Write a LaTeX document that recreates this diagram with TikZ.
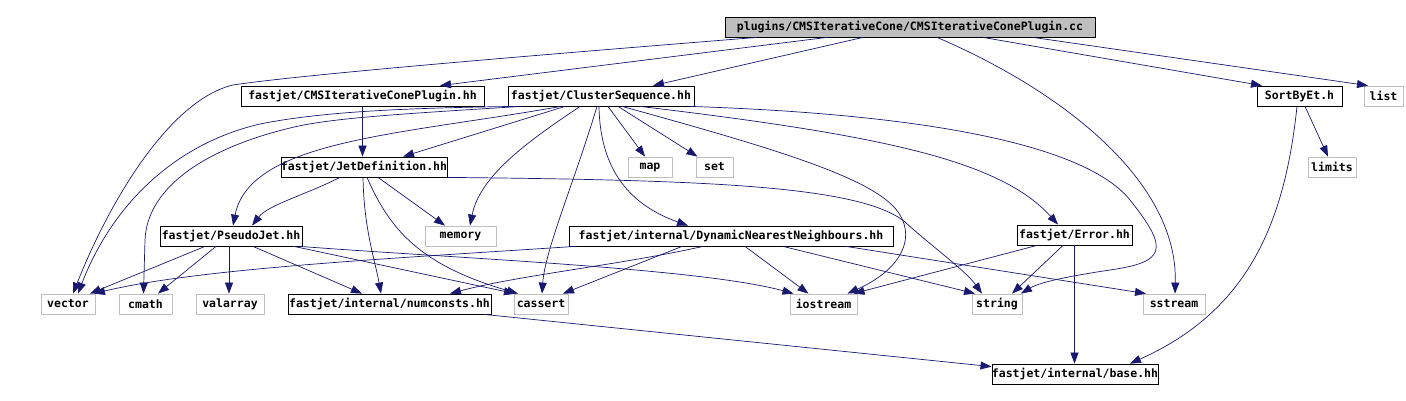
\documentclass[tikz,border=0pt]{standalone}
\usepackage{fontspec}
\setmonofont{DejaVu Sans Mono}
\usetikzlibrary{arrows.meta}
\definecolor{edgeblue}{HTML}{191970}
\definecolor{sysgray}{HTML}{BFBFBF}

\begin{document}
\begin{tikzpicture}[x=1pt, y=-1pt,
    file/.style={draw=black, fill=white, line width=0.8pt, minimum height=20pt, inner sep=0pt,
        font=\ttfamily\bfseries\fontsize{11.5}{13}\selectfont},
    sysfile/.style={file, draw=sysgray},
    mainfile/.style={file, fill=sysgray},
    dep/.style={edgeblue, line width=0.7pt, -{Triangle[length=11pt,width=8pt]}}]
    \useasboundingbox (0,0) rectangle (1406,401);

    \node[mainfile, minimum width=370pt] (root) at (910,27) {plugins/CMSIterativeCone/CMSIterativeConePlugin.cc};

    \node[file, minimum width=243pt] (cmsplug) at (362.5,96) {fastjet/CMSIterativeConePlugin.hh};
    \node[file, minimum width=186pt] (cluster) at (601,96) {fastjet/ClusterSequence.hh};
    \node[file, minimum width=85pt] (sortbyet) at (1299.5,96) {SortByEt.h};
    \node[sysfile, minimum width=39pt] (list) at (1383.5,96) {list};

    \node[file, minimum width=164pt] (jetdef) at (364,167) {fastjet/JetDefinition.hh};
    \node[sysfile, minimum width=44pt] (map) at (650,167) {map};
    \node[sysfile, minimum width=37pt] (set) at (714.5,167) {set};
    \node[sysfile, minimum width=48pt] (limits) at (1332,167) {limits};

    \node[file, minimum width=142pt] (pseudojet) at (231,236) {fastjet/PseudoJet.hh};
    \node[sysfile, minimum width=71pt] (memory) at (460.5,236) {memory};
    \node[file, minimum width=324pt] (dnn) at (731,236) {fastjet/internal/DynamicNearestNeighbours.hh};
    \node[file, minimum width=115pt] (error) at (1074.5,235) {fastjet/Error.hh};

    \node[sysfile, minimum width=54pt] (vector) at (68,304) {vector};
    \node[sysfile, minimum width=53pt] (cmath) at (145.5,304) {cmath};
    \node[sysfile, minimum width=68pt] (valarray) at (230,304) {valarray};
    \node[file, minimum width=203pt] (numconsts) at (389.5,304) {fastjet/internal/numconsts.hh};
    \node[sysfile, minimum width=54pt] (cassert) at (541,304) {cassert};
    \node[sysfile, minimum width=67pt] (iostream) at (823.5,304) {iostream};
    \node[sysfile, minimum width=50pt] (string) at (997,304) {string};
    \node[sysfile, minimum width=62pt] (sstream) at (1174,304) {sstream};

    \node[file, minimum width=164pt] (base) at (1075,374) {fastjet/internal/base.hh};

    \draw[dep] ([xshift=-153pt]root.south) .. controls (500,58) and (300,75) .. (233,85) .. controls (170,100) and (110,200) .. ([xshift=5pt]vector.north);
    \draw[dep] ([xshift=-83pt]root.south) -- ([xshift=77.5pt]cmsplug.north);
    \draw[dep] ([xshift=-47pt]root.south) -- ([xshift=52pt]cluster.north);
    \draw[dep] ([xshift=27pt]root.south) .. controls (1060,90) and (1178,180) .. ([xshift=1pt]sstream.north);
    \draw[dep] ([xshift=73pt]root.south) -- ([xshift=-37.5pt]sortbyet.north);
    \draw[dep] ([xshift=123pt]root.south) -- ([xshift=-15.5pt]list.north);

    \draw[dep] (cmsplug.south) -- (cmsplug.south |- jetdef.north);

    \draw[dep] ([xshift=-85pt]cluster.south) .. controls (400,108) and (320,112) .. (260,124) .. controls (170,145) and (110,210) .. ([xshift=10pt]vector.north);
    \draw[dep] ([xshift=-80pt]cluster.south) .. controls (400,114) and (330,118) .. (290,128) .. controls (200,150) and (147,190) .. (145,240) -- ([xshift=-2pt]cmath.north);
    \draw[dep] ([xshift=-40pt]cluster.south) .. controls (400,135) and (250,140) .. ([xshift=2pt]pseudojet.north);
    \draw[dep] ([xshift=-36pt]cluster.south) -- ([xshift=39pt]jetdef.north);
    \draw[dep] ([xshift=-21pt]cluster.south) .. controls (530,140) and (480,175) .. ([xshift=9.5pt]memory.north);
    \draw[dep] ([xshift=-4pt]cluster.south) .. controls (575,180) and (545,250) .. ([xshift=1pt]cassert.north);
    \draw[dep] ([xshift=7pt]cluster.south) -- ([xshift=-5pt]map.north);
    \draw[dep] ([xshift=17pt]cluster.south) -- ([xshift=-17pt]set.north);
    \draw[dep] ([xshift=-2pt]cluster.south) .. controls (600,170) and (630,205) .. ([xshift=-43pt]dnn.north);
    \draw[dep] ([xshift=21pt]cluster.south) .. controls (780,150) and (880,180) .. (900,215) .. controls (915,240) and (900,270) .. ([xshift=24pt]iostream.north);
    \draw[dep] ([xshift=39pt]cluster.south) .. controls (880,135) and (1000,160) .. ([xshift=-16.5pt]error.north);
    \draw[dep] ([xshift=89pt]cluster.south) .. controls (950,115) and (1090,150) .. (1130,200) .. controls (1170,250) and (1165,262) .. (1110,270) .. controls (1070,276) and (1040,282) .. ([xshift=24pt]string.north);

    \draw[dep] ([xshift=-24pt]jetdef.south) .. controls (305,195) and (268,205) .. ([xshift=21pt]pseudojet.north);
    \draw[dep] ([xshift=14pt]jetdef.south) -- ([xshift=-15.5pt]memory.north);
    \draw[dep] ([xshift=-1pt]jetdef.south) .. controls (364,230) and (375,260) .. ([xshift=-8.5pt]numconsts.north);
    \draw[dep] ([xshift=3pt]jetdef.south) .. controls (390,230) and (420,265) .. ([xshift=-23pt]cassert.north);
    \draw[dep] (jetdef.south east) .. controls (700,180) and (860,185) .. (905,222) .. controls (930,245) and (965,270) .. ([xshift=-15pt]string.north);

    \draw[dep] ([xshift=-26pt]pseudojet.south) -- ([xshift=22pt]vector.north);
    \draw[dep] ([xshift=-15pt]pseudojet.south) -- ([xshift=12.5pt]cmath.north);
    \draw[dep] ([xshift=-2pt]pseudojet.south) -- ([xshift=-1pt]valarray.north);
    \draw[dep] ([xshift=22pt]pseudojet.south) -- ([xshift=-27.5pt]numconsts.north);
    \draw[dep] ([xshift=63pt]pseudojet.south) -- ([xshift=-26pt]cassert.north);
    \draw[dep] ([xshift=69pt]pseudojet.south) .. controls (450,258) and (700,268) .. ([xshift=-30pt]iostream.north);

    \draw[dep] ([xshift=-156pt]dnn.south) .. controls (400,258) and (200,268) .. ([xshift=26pt]vector.north);
    \draw[dep] ([xshift=-28pt]dnn.south) .. controls (620,265) and (520,275) .. ([xshift=60.5pt]numconsts.north);
    \draw[dep] ([xshift=-49pt]dnn.south) -- ([xshift=22pt]cassert.north);
    \draw[dep] ([xshift=14pt]dnn.south) -- ([xshift=-15pt]iostream.north);
    \draw[dep] ([xshift=52pt]dnn.south) -- ([xshift=-22pt]string.north);
    \draw[dep] ([xshift=115pt]dnn.south) -- ([xshift=-28pt]sstream.north);

    \draw[dep] ([xshift=-37.5pt]error.south) -- ([xshift=30pt]iostream.north);
    \draw[dep] ([xshift=-11.5pt]error.south) -- ([xshift=15pt]string.north);
    \draw[dep] (error.south) -- (error.south |- base.north);

    \draw[dep] ([xshift=5.5pt]sortbyet.south) -- ([xshift=-4pt]limits.north);
    \draw[dep] ([xshift=-2.5pt]sortbyet.south) .. controls (1285,220) and (1250,310) .. ([xshift=55pt]base.north);

    \draw[dep] ([xshift=94.5pt]numconsts.south) -- ([yshift=-3pt]base.north west);
\end{tikzpicture}
\end{document}
